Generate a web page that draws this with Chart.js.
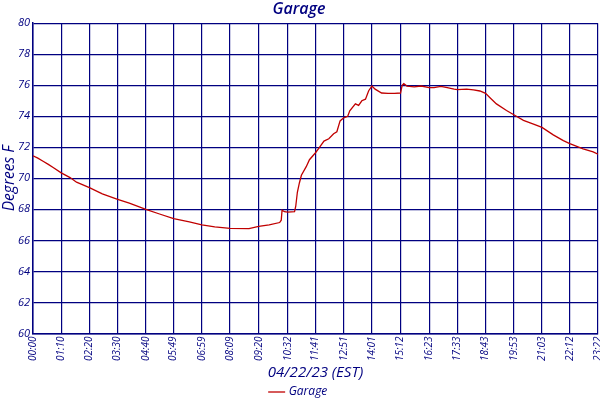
<!DOCTYPE html>
<html>
<head>
<meta charset="utf-8">
<script src="https://cdn.jsdelivr.net/npm/chart.js@4"></script>
<style>
  html, body { margin: 0; padding: 0; background: #fff; }
  #wrap { width: 600px; height: 400px; }
</style>
</head>
<body>
<div id="wrap"><canvas id="myChart"></canvas></div>
<script>
// sample times in minutes after midnight, and readings in degrees F
var sampleMinutes = [0, 12, 25, 38, 50, 70, 92, 108, 140, 172, 210, 239, 280, 314, 349, 388, 419, 451, 489, 536,
  560, 586, 612, 616, 618, 624, 632, 649, 652, 656, 661, 666, 678, 686, 701, 710, 722, 734, 746, 754,
  762, 771, 781, 786, 800, 808, 816, 825, 833, 841, 849, 865, 881, 897, 912, 916, 920, 928, 946, 963,
  983, 995, 1012, 1028, 1045, 1053, 1076, 1093, 1109, 1123, 1134, 1150, 1175, 1193, 1217, 1242, 1263, 1291, 1316, 1332,
  1365, 1390, 1402];
var garageTemps = [71.45, 71.3, 71.1, 70.9, 70.7, 70.35, 70.05, 69.75, 69.4, 69.0, 68.65, 68.4, 68.0, 67.7, 67.4, 67.2, 67.0, 66.87, 66.78, 66.76,
  66.9, 67.0, 67.15, 67.3, 67.95, 67.85, 67.82, 67.85, 68.2, 69.1, 69.7, 70.2, 70.75, 71.2, 71.65, 71.97, 72.4, 72.55, 72.87, 73.0,
  73.7, 73.9, 74.0, 74.35, 74.8, 74.7, 75.0, 75.1, 75.65, 75.95, 75.75, 75.5, 75.48, 75.48, 75.5, 76.0, 76.1, 75.95, 75.9, 75.95,
  75.85, 75.85, 75.93, 75.85, 75.75, 75.72, 75.75, 75.7, 75.63, 75.48, 75.2, 74.8, 74.37, 74.1, 73.74, 73.5, 73.28, 72.8, 72.43, 72.24,
  71.9, 71.7, 71.55];
var tickLabels = ['00:00', '01:10', '02:20', '03:30', '04:40', '05:49', '06:59', '08:09', '09:20', '10:32',
  '11:41', '12:51', '14:01', '15:12', '16:23', '17:33', '18:43', '19:53', '21:03', '22:12', '23:22'];

var navy = '#000080';
var fontFam = '"Open Sans", "DejaVu Sans", sans-serif';

function toMinutes(s) {
  var p = s.split(':');
  return parseInt(p[0], 10) * 60 + parseInt(p[1], 10);
}
var tickMinutes = tickLabels.map(toMinutes);

var points = sampleMinutes.map(function (m, i) { return {x: m, y: garageTemps[i]}; });

var ctx = document.getElementById('myChart').getContext('2d');
var myChart = new Chart(ctx, {
  type: 'line',
  data: {
    datasets: [{
      label: 'Garage',
      data: points,
      borderColor: '#c00000',
      backgroundColor: '#c00000',
      borderWidth: 1.3,
      pointRadius: 0,
      tension: 0
    }]
  },
  options: {
    responsive: true,
    maintainAspectRatio: false,
    animation: false,
    layout: { padding: { left: 0, right: 2, top: 0, bottom: -8 } },
    scales: {
      x: {
        type: 'linear',
        min: 0,
        max: 1402,
        afterBuildTicks: function (axis) {
          axis.ticks = tickMinutes.map(function (v) { return {value: v}; });
        },
        afterFit: function (axis) {
          // let the last rotated label sit on the right edge like the original
          axis.paddingRight = 0;
        },
        ticks: {
          autoSkip: false,
          maxRotation: 90,
          minRotation: 90,
          padding: 3,
          color: navy,
          font: { family: fontFam, size: 10, style: 'italic' },
          callback: function (value) {
            var i = tickMinutes.indexOf(value);
            return i >= 0 ? tickLabels[i] : '';
          }
        },
        grid: { color: navy, lineWidth: 1.2, drawTicks: false },
        border: { color: navy, width: 1.5 },
        title: {
          display: true,
          text: '04/22/23 (EST)',
          color: navy,
          padding: { top: 0, bottom: 0 },
          font: { family: fontFam, size: 15, style: 'italic' }
        }
      },
      y: {
        min: 60,
        max: 80,
        afterFit: function (axis) {
          axis.width = 33;
        },
        ticks: {
          stepSize: 2,
          padding: 3,
          color: navy,
          font: { family: fontFam, size: 11, style: 'italic' }
        },
        grid: { color: navy, lineWidth: 1.2, drawTicks: false },
        border: { color: navy, width: 1.5 },
        title: {
          display: true,
          text: 'Degrees F',
          color: navy,
          padding: { top: 0, bottom: 0 },
          font: { family: fontFam, size: 15.5, style: 'italic' }
        }
      }
    },
    plugins: {
      title: {
        display: true,
        text: 'Garage',
        color: navy,
        padding: { top: 0, bottom: 4 },
        font: { family: fontFam, size: 16, style: 'italic', weight: '600' }
      },
      legend: {
        position: 'bottom',
        labels: {
          color: navy,
          usePointStyle: true,
          pointStyle: 'line',
          boxWidth: 14,
          padding: 4,
          font: { family: fontFam, size: 12, style: 'italic' }
        }
      },
      tooltip: { enabled: false }
    }
  }
});
</script>
</body>
</html>
